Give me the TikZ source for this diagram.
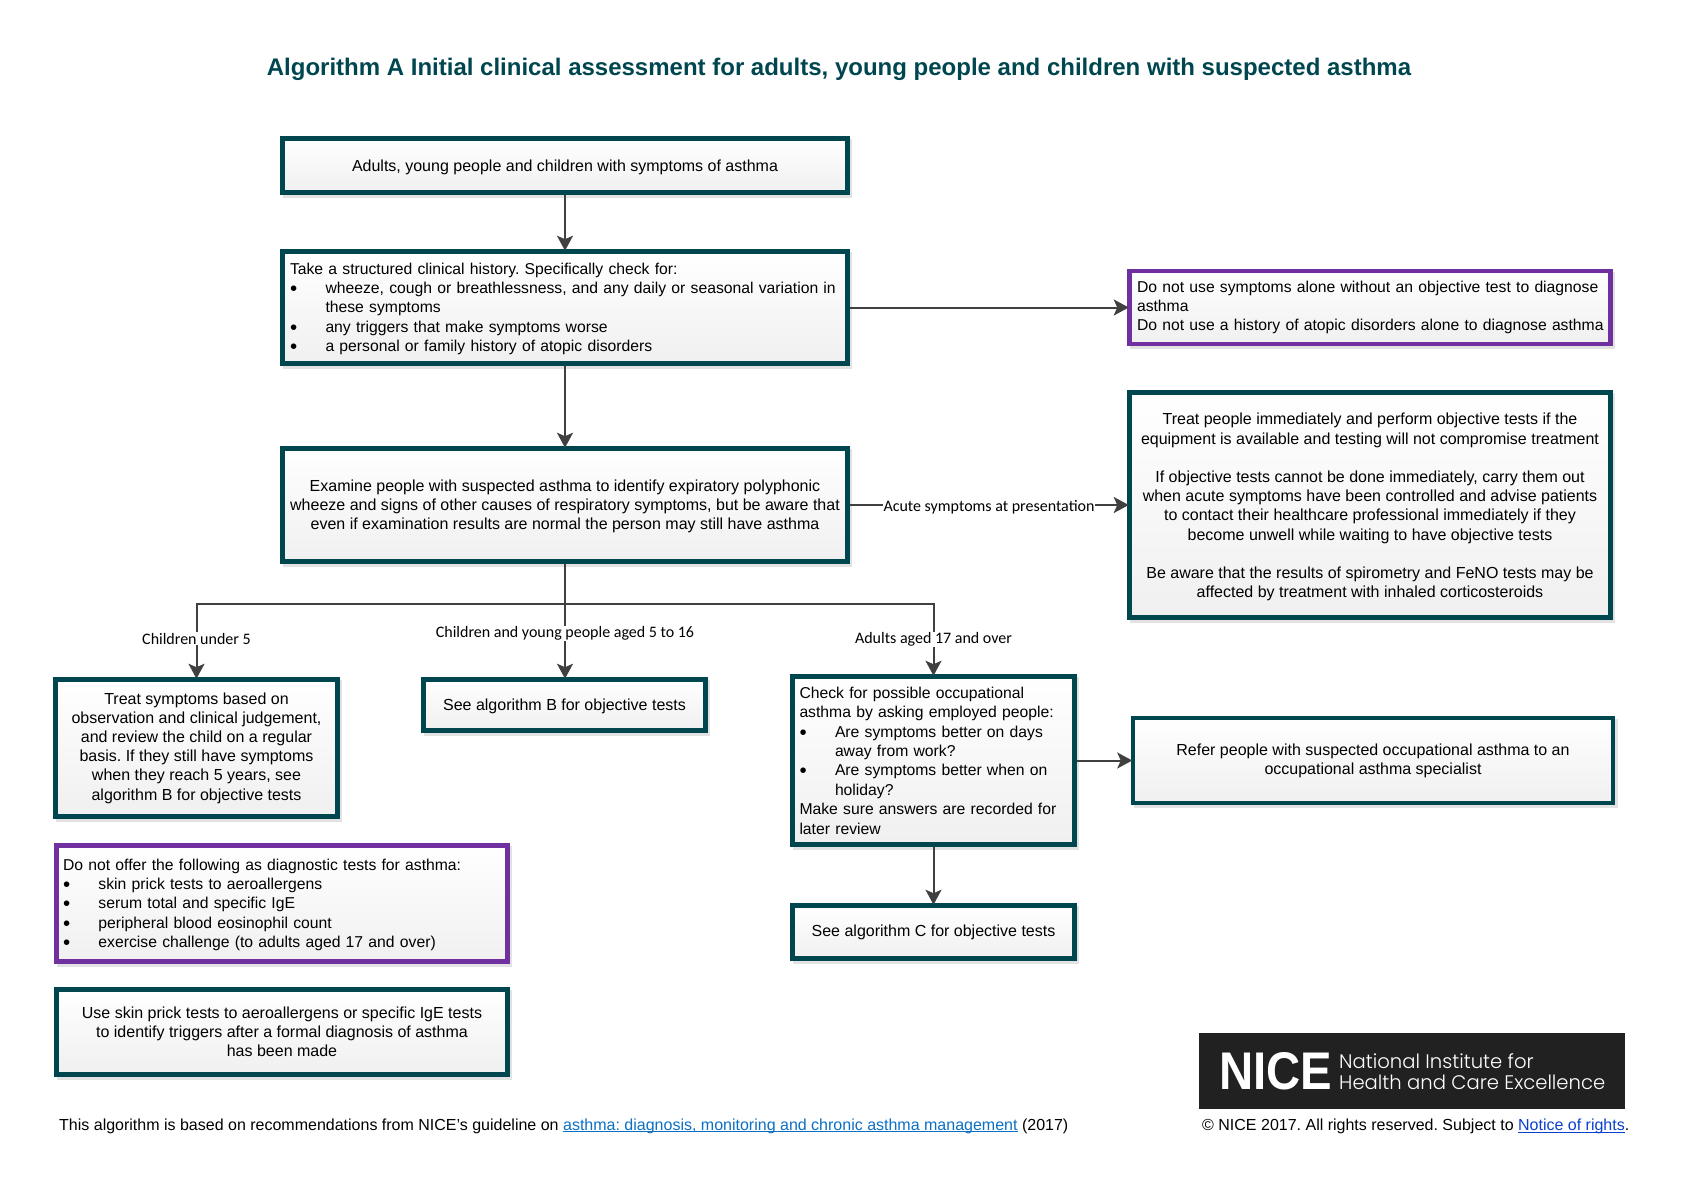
\documentclass[tikz,border=0pt]{standalone}
\usepackage{fontspec}
\usetikzlibrary{arrows.meta,calc,backgrounds}
\setmainfont{Liberation Sans}
\newfontfamily\carl{Carlito}
\newfontfamily\logof{Poppins}[UprightFont=* Light]
\definecolor{niceteal}{HTML}{00464F}
\definecolor{nicepurple}{HTML}{7030A0}
\definecolor{linegrey}{HTML}{404040}
\definecolor{linkone}{HTML}{0B6FC4}
\definecolor{linktwo}{HTML}{0B3FD0}
\definecolor{logobg}{HTML}{212121}
\definecolor{shadowgrey}{HTML}{E2E2E2}
\newcommand{\bl}{\makebox[35.5pt][l]{\raisebox{-2pt}{\scalebox{1.3}{\textbullet}}}}
\newcommand{\ind}{\hspace*{35.5pt}}
\newcommand{\lnk}[1]{\underline{\smash{#1}}}
\newcommand{\dn}[1]{\rule{0pt}{#1}}
\tikzset{
  x=1pt,y=-1pt,
  basebox/.style={draw,line width=4.5pt,top color=white,bottom color=black!6,
    font=\frenchspacing\fontsize{16}{19.2}\selectfont,text=black,inner xsep=4pt,inner ysep=0pt,align=center},
  teal/.style={basebox,draw=niceteal},
  purple/.style={basebox,draw=nicepurple},
  lft/.style={align=left,font=\frenchspacing\fontsize{15.72}{19.4}\selectfont},
  conn/.style={draw=linegrey,line width=2pt,shorten >=-1.5pt,-{Stealth[length=15pt,width=16pt,inset=3.5pt]}},
  lbl/.style={font=\carl\fontsize{16}{18}\selectfont,fill=white,text=black,inner xsep=1pt,inner ysep=1pt},
  foot/.style={font=\frenchspacing\fontsize{16}{19}\selectfont,text=black,inner sep=0pt}
}
\begin{document}
\begin{tikzpicture}
\useasboundingbox (0,0) rectangle (1682,1188);
\node (title) [font=\bfseries\fontsize{24}{30}\selectfont,text=niceteal,inner sep=0pt] at (839,69)
  {Algorithm A Initial clinical assessment for adults, young people and children with suspected asthma};

\node (b1) [teal,minimum width=565pt,minimum height=54pt] at (565,165.5)
  {\dn{16pt}Adults, young people and children with symptoms of asthma};
\node (b2) [teal,lft,minimum width=565pt,minimum height=112pt,text width=550pt] at (565,307.5)
  {\dn{14pt}Take a structured clinical history. Specifically check for:\\
   \mbox{\bl wheeze, cough or breathlessness, and any daily or seasonal variation in}\\
   \ind these symptoms\\
   \bl any triggers that make symptoms worse\\
   \bl a personal or family history of atopic disorders};
\node (b3) [teal,minimum width=565pt,minimum height=113pt] at (565,505)
  {\dn{14pt}Examine people with suspected asthma to identify expiratory polyphonic\\
   wheeze and signs of other causes of respiratory symptoms, but be aware that\\
   even if examination results are normal the person may still have asthma};
\node (r1) [purple,lft,minimum width=481pt,minimum height=73pt,text width=466pt] at (1370,307.5)
  {\mbox{Do not use symptoms alone without an objective test to diagnose}\\
   asthma\\
   \mbox{Do not use a history of atopic disorders alone to diagnose asthma}};
\node (r2) [teal,minimum width=481pt,minimum height=225pt] at (1370,505)
  {\dn{16pt}Treat people immediately and perform objective tests if the\\
   equipment is available and testing will not compromise treatment\\[19.2pt]
   If objective tests cannot be done immediately, carry them out\\
   when acute symptoms have been controlled and advise patients\\
   to contact their healthcare professional immediately if they\\
   become unwell while waiting to have objective tests\\[19.2pt]
   Be aware that the results of spirometry and FeNO tests may be\\
   affected by treatment with inhaled corticosteroids};
\node (kids) [teal,minimum width=282pt,minimum height=137pt] at (196.5,748)
  {Treat symptoms based on\\
   observation and clinical judgement,\\
   and review the child on a regular\\
   basis. If they still have symptoms\\
   when they reach 5 years, see\\
   algorithm B for objective tests};
\node (algb) [teal,minimum width=282pt,minimum height=51pt] at (564.5,705)
  {\dn{14pt}See algorithm B for objective tests};
\node (occ) [teal,lft,minimum width=282pt,minimum height=168pt,text width=268pt] at (933.5,760.5)
  {Check for possible occupational\\
   \mbox{asthma by asking employed people:}\\
   \bl Are symptoms better on days\\
   \ind away from work?\\
   \bl Are symptoms better when on\\
   \ind holiday?\\
   \mbox{Make sure answers are recorded for}\\
   later review};
\node (refer) [teal,minimum width=480pt,minimum height=85pt] at (1373,760.5)
  {Refer people with suspected occupational asthma to an\\
   occupational asthma specialist};
\node (algc) [teal,minimum width=282pt,minimum height=53pt] at (933.5,932)
  {See algorithm C for objective tests};
\node (dont) [purple,lft,minimum width=451pt,minimum height=116pt,text width=438pt] at (282,903.5)
  {\dn{14pt}Do not offer the following as diagnostic tests for asthma:\\
   \bl skin prick tests to aeroallergens\\
   \bl serum total and specific IgE\\
   \bl peripheral blood eosinophil count\\
   \bl exercise challenge (to adults aged 17 and over)};
\node (skin) [teal,minimum width=451pt,minimum height=85pt] at (282,1032)
  {Use skin prick tests to aeroallergens or specific IgE tests\\
   to identify triggers after a formal diagnosis of asthma\\
   has been made};

\begin{scope}[on background layer]
  \foreach \n in {b1,b2,b3,r1,r2,kids,algb,occ,refer,algc,dont,skin}
    \fill[shadowgrey] ($(\n.north west)+(3,3)$) rectangle ($(\n.south east)+(2.5,3)$);
\end{scope}

\coordinate (jc) at (565,604);
\draw[conn] (b1.south) -- (b2.north);
\draw[conn] (b2.south) -- (b3.north);
\draw[conn] (b2.east) -- (r1.west);
\draw[conn] (b3.east) -- (r2.west);
\draw[conn] (b3.south) -- (b3.south |- algb.north);
\draw[conn] (jc) -| (kids.north);
\draw[conn] (jc) -| (occ.north);
\draw[conn] (occ.east) -- (refer.west);
\draw[conn] (occ.south) -- (algc.north);

\node (lacute) [lbl] at (989,507) {Acute symptoms at presentation};
\node (lkids) [lbl] at (196.5,638.5) {Children under 5};
\node (lmid) [lbl] at (565,633.5) {Children and young people aged 5 to 16};
\node (ladult) [lbl] at (933.5,639.5) {Adults aged 17 and over};

\node (fl) [foot,anchor=west] at (59,1126)
  {This algorithm is based on recommendations from NICE’s guideline on \textcolor{linkone}{\lnk{asthma: diagnosis, monitoring and chronic asthma management}} (2017)};
\node (logo) [fill=logobg,minimum width=426pt,minimum height=76pt,inner sep=0pt] at (1412,1071) {};
\node (nice) [text=white,inner sep=0pt,font=\bfseries,anchor=center] at (1276,1071.5)
  {\resizebox{113pt}{37pt}{NICE}};
\node (tag1) [text=white,inner sep=0pt,anchor=west,font=\logof\fontsize{19.6}{24}\selectfont] at (1339,1061) {National Institute for};
\node (tag2) [text=white,inner sep=0pt,anchor=west,font=\logof\fontsize{19.6}{24}\selectfont] at (1339,1082.5) {Health and Care Excellence};
\node (copy) [foot,anchor=west] at (1202,1126.5)
  {© NICE 2017. All rights reserved. Subject to \textcolor{linktwo}{\lnk{Notice of rights}}.};
\end{tikzpicture}
\end{document}
